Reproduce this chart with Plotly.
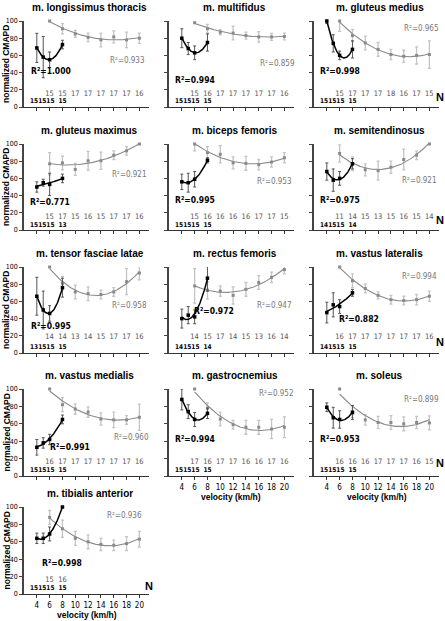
import numpy as np
import plotly.graph_objects as go

W, H = 445, 621

# ---------------- data ----------------
titles = ["m. longissimus thoracis", "m. multifidus", "m. gluteus medius",
          "m. gluteus maximus", "m. biceps femoris", "m. semitendinosus",
          "m. tensor fasciae latae", "m. rectus femoris", "m. vastus lateralis",
          "m. vastus medialis", "m. gastrocnemius", "m. soleus",
          "m. tibialis anterior"]

walk_v = [4, 5, 6, 8]
run_v = [6, 8, 10, 12, 14, 16, 18, 20]
x_ticks = [4, 6, 8, 10, 12, 14, 16, 18, 20]
y_ticks = [0, 20, 40, 60, 80, 100]

walk_vals = [
    [68.7, 58, 55, 72.6],
    [80, 68, 63, 75],
    [100, 74, 60, 67],
    [50, 55, 53, 60],
    [56, 55, 59, 81],
    [68, 58, 60, 77],
    [66, 50, 46, 76],
    [40, 44, 42, 87],
    [47, 56, 54, 70],
    [33, 38, 42, 65],
    [88, 74, 65, 72],
    [79, 67, 65, 73],
    [64, 64, 69, 100],
]
walk_err = [
    [17, 24, 9, 5],
    [11, 7, 8, 10],
    [3, 10, 5, 10],
    [6, 4, 13, 5],
    [9, 11, 9, 3],
    [10, 13, 8, 6],
    [22, 22, 9, 11],
    [11, 10, 8, 15],
    [12, 14, 8, 4],
    [9, 6, 6, 5],
    [12, 8, 8, 6],
    [5, 12, 10, 8],
    [6, 6, 8, 0],
]
run_vals = [
    [100, 91, 85, 81, 78, 81.5, 78, 80],
    [98, 91, 87, 86, 83, 81.5, 81.5, 82],
    [100, 83, 74.5, 67, 61, 59, 60, 61],
    [77, 78, 70.5, 80.5, 80.5, 87, 92, 100],
    [100, 90, 88, 78, 77.5, 76, 79, 84],
    [89, 77, 70, 69, 73, 82, 87, 100],
    [100, 81, 71, 69, 68, 71, 83, 93],
    [78, 73, 72, 67, 74, 82, 88, 97],
    [100, 84, 75, 67, 62, 61, 62, 66],
    [100, 82, 77, 73.5, 65.5, 64.5, 64.5, 67.5],
    [100, 78, 65.5, 59, 56, 56, 54, 56],
    [100, 74, 64.5, 61.5, 61.5, 60, 61.5, 61],
    [88, 75, 64, 60, 57, 56, 58, 63],
]
run_err = [
    [0, 6, 4, 5, 8, 7, 9, 6],
    [0, 5, 3, 8, 4, 6, 4, 4],
    [12, 7, 8, 8, 6, 7, 10, 16],
    [13, 8, 7, 11, 10, 5, 5, 0],
    [8, 7, 10, 7, 8, 6, 6, 6],
    [10, 8, 7, 11, 7, 12, 5, 0],
    [0, 8, 8, 8, 5, 5, 15, 8],
    [20, 10, 6, 10, 8, 8, 6, 5],
    [0, 8, 5, 4, 5, 5, 6, 6],
    [0, 8, 6, 6, 7, 9, 5, 15],
    [0, 6, 8, 5, 8, 8, 11, 12],
    [0, 7, 6, 7, 8, 8, 7, 8],
    [8, 10, 8, 8, 7, 6, 8, 9],
]
walk_r2 = ["1.000", "0.994", "0.998", "0.771", "0.995", "0.975", "0.995",
           "0.972", "0.882", "0.991", "0.994", "0.953", "0.998"]
run_r2 = ["0.933", "0.859", "0.965", "0.921", "0.953", "0.921", "0.958",
          "0.947", "0.994", "0.960", "0.952", "0.899", "0.936"]
walk_n = [
    [15, 15, 15, 15], [15, 15, 15, 15], [15, 15, 15, 15], [15, 15, 15, 13],
    [15, 15, 15, 15], [14, 15, 15, 14], [13, 15, 15, 15], [14, 15, 15, 14],
    [14, 15, 15, 15], [15, 15, 15, 15], [15, 15, 15, 15], [15, 15, 15, 15],
    [15, 15, 15, 15],
]
run_n = [
    [15, 15, 17, 17, 17, 17, 17, 16],
    [15, 16, 17, 17, 17, 17, 17, 16],
    [15, 17, 17, 17, 18, 16, 17, 15],
    [15, 17, 15, 16, 15, 17, 17, 16],
    [15, 16, 16, 16, 16, 17, 17, 15],
    [11, 14, 15, 13, 15, 16, 15, 14],
    [14, 14, 13, 14, 15, 17, 17, 16],
    [14, 15, 17, 14, 15, 13, 16, 14],
    [16, 17, 17, 17, 17, 17, 17, 16],
    [16, 17, 17, 17, 17, 17, 17, 16],
    [17, 16, 17, 17, 16, 16, 17, 16],
    [16, 16, 16, 17, 17, 17, 16, 15],
    [15, 16],
]

# ---------------- layout helpers (positions / styles) ----------------
col_x0 = [24, 169, 314]
panel_w = 125
row_y = [(21, 107), (144, 230), (267, 353), (389, 476), (507, 594)]  # (100-line, 0-line) px
count_y = [(15, 6), (15, 5), (19, 7), (16, 7), (16, 7)]  # (run row, walk row) in data units
run_r2_pos = [(18.2, 54), (19, 51), (18.7, 91), (18.4, 64), (18.4, 56), (18.4, 58),
              (18.4, 55), (18.4, 55), (18.4, 89), (18.7, 44), (18.7, 95), (18.7, 88),
              (17.7, 90)]
walk_r2_pos = [(6.2, 42), (6, 31), (6, 42), (6, 33), (6, 35), (6, 35), (6.2, 31),
               (9, 49), (9, 39), (9.2, 33), (6, 43), (6, 43), (8, 36)]
bottom_panels = {10, 11, 12}
n_panels = {2: 12, 5: 12, 8: 13, 11: 15, 12: 9}

FONT = "Liberation Sans, Arial, sans-serif"
NARROW = "Liberation Sans Narrow, Arial Narrow, DejaVu Sans Condensed, sans-serif"
GRAY = "#8a8a8a"
LGRAY = "#c4c4c4"

fig = go.Figure()
layout = dict(template="none", width=W, height=H, autosize=False,
              margin=dict(l=0, r=0, t=0, b=0, pad=0),
              paper_bgcolor="white", plot_bgcolor="white", showlegend=False,
              font=dict(family=FONT, color="black"))
annotations = []


def ann(**kw):
    kw.setdefault("showarrow", False)
    kw.setdefault("xanchor", "center")
    kw.setdefault("yanchor", "middle")
    annotations.append(kw)


for i in range(13):
    r, c = divmod(i, 3)
    x0 = col_x0[c]
    y100, y0 = row_y[r]
    sfx = "" if i == 0 else str(i + 1)
    xa, ya = "x" + sfx, "y" + sfx
    bottom = i in bottom_panels
    layout["xaxis" + sfx] = dict(
        domain=[x0 / W, (x0 + panel_w) / W], range=[2, 21.5], anchor=ya,
        automargin=False,
        showline=True, linecolor="#333", linewidth=1, ticks="outside", ticklen=3,
        tickcolor="#333", tickvals=x_ticks, showticklabels=bottom,
        tickfont=dict(family=NARROW, size=8), showgrid=False, zeroline=False)
    layout["yaxis" + sfx] = dict(
        domain=[1 - y0 / H, 1 - y100 / H], range=[0, 100], anchor=xa,
        automargin=False,
        showline=True, linecolor="#444", linewidth=1.5, ticks="outside", ticklen=3,
        tickcolor="#444", tickvals=y_ticks, showticklabels=(c == 0),
        tickfont=dict(family=NARROW, size=7), showgrid=False, zeroline=False)

    # running series
    fig.add_trace(go.Scatter(
        x=run_v[:len(run_vals[i])], y=run_vals[i], xaxis=xa, yaxis=ya, mode="markers",
        marker=dict(size=3, color=GRAY, symbol="square"),
        error_y=dict(type="data", array=run_err[i], color=LGRAY, thickness=1.3, width=1.5),
        cliponaxis=False))
    pr = np.polyfit(run_v, run_vals[i], 2)
    xr = np.linspace(run_v[0], run_v[-1], 80)
    fig.add_trace(go.Scatter(x=xr, y=np.polyval(pr, xr), xaxis=xa, yaxis=ya, mode="lines",
                             line=dict(color=GRAY, width=1.1), cliponaxis=False))
    # walking series
    fig.add_trace(go.Scatter(
        x=walk_v, y=walk_vals[i], xaxis=xa, yaxis=ya, mode="markers",
        marker=dict(size=3.5, color="black", symbol="square"),
        error_y=dict(type="data", array=walk_err[i], color="#555", thickness=1, width=1.5),
        cliponaxis=False))
    pw = np.polyfit(walk_v, walk_vals[i], 2)
    xw = np.linspace(walk_v[0], walk_v[-1], 60)
    fig.add_trace(go.Scatter(x=xw, y=np.polyval(pw, xw), xaxis=xa, yaxis=ya, mode="lines",
                             line=dict(color="black", width=1.5), cliponaxis=False))

    # counts
    cy_run, cy_walk = count_y[r]
    fig.add_trace(go.Scatter(
        x=run_v[:len(run_n[i])], y=[cy_run] * len(run_n[i]), text=[str(v) for v in run_n[i]],
        xaxis=xa, yaxis=ya, mode="text", cliponaxis=False,
        textfont=dict(family=NARROW, size=7.5, color="#555")))
    # the three closely spaced walking counts are set as one tight string
    packed = "".join(str(v) for v in walk_n[i][:3])
    fig.add_trace(go.Scatter(
        x=[(walk_v[0] + walk_v[2]) / 2 - 0.15, walk_v[3]], y=[cy_walk, cy_walk],
        text=["<b>" + packed + "</b>", "<b>" + str(walk_n[i][3]) + "</b>"],
        xaxis=xa, yaxis=ya, mode="text", cliponaxis=False,
        textfont=dict(family=NARROW, size=6.5, color="black")))

    # R2 labels
    ann(x=run_r2_pos[i][0], y=run_r2_pos[i][1], xref=xa, yref=ya,
        text="R²=" + run_r2[i], font=dict(family=NARROW, size=8, color="#777"))
    ann(x=walk_r2_pos[i][0], y=walk_r2_pos[i][1], xref=xa, yref=ya,
        text="<b>R²=" + walk_r2[i] + "</b>", font=dict(family=NARROW, size=8.5, color="black"))
    # title
    ann(x=(x0 + panel_w / 2 + 3) / W, y=1 - (y100 - 14) / H, xref="paper", yref="paper",
        text="<b>" + titles[i] + "</b>", font=dict(family=FONT, size=10))
    # y-axis title
    if c == 0:
        ann(x=6 / W, y=1 - ((y100 + y0) / 2) / H, xref="paper", yref="paper",
            text="<b>normalized CMAPD</b>", textangle=-90, font=dict(family=FONT, size=8.5))
    if bottom:
        ann(x=(x0 + panel_w / 2) / W, y=1 - (y0 + 21) / H, xref="paper", yref="paper",
            text="<b>velocity (km/h)</b>", font=dict(family=FONT, size=8.5))
    if i in n_panels:
        nx = 440 if c == 2 else 149
        ann(x=nx / W, y=n_panels[i], xref="paper", yref=ya, text="<b>N</b>",
            font=dict(family=FONT, size=11))

layout["annotations"] = annotations
fig.update_layout(**layout)
fig.write_html("out.html", config={"displayModeBar": False},
               post_script="document.body.style.margin='0px';")
